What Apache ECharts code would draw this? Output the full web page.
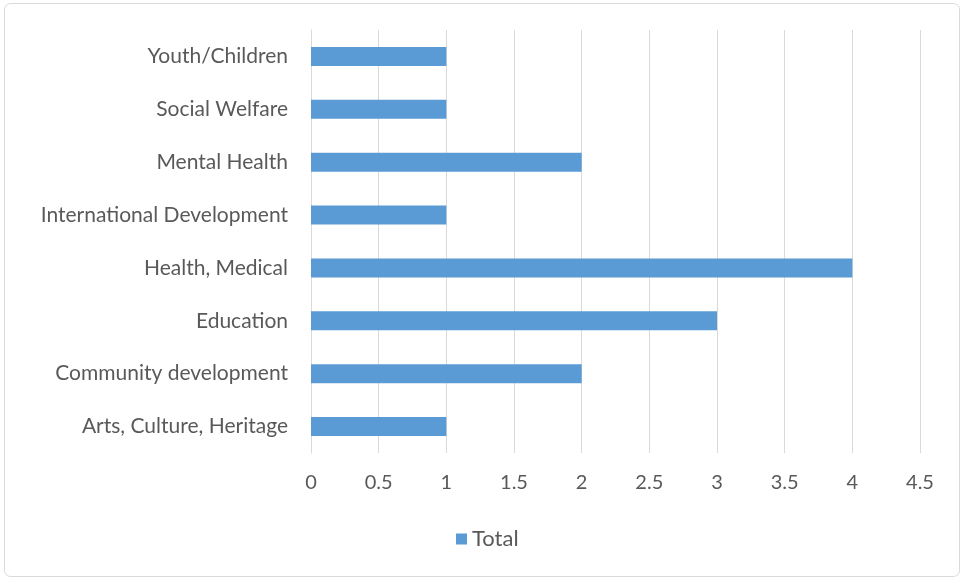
<!DOCTYPE html>
<html>
<head>
<meta charset="utf-8">
<script src="https://cdn.jsdelivr.net/npm/echarts@6/dist/echarts.min.js"></script>
<style>
  html, body { margin: 0; padding: 0; background: #fff; }
  #chart { width: 964px; height: 578px; }
</style>
</head>
<body>
<div id="chart"></div>
<script>
// categories listed bottom to top
const categories = [
  'Arts, Culture, Heritage',
  'Community development',
  'Education',
  'Health, Medical',
  'International Development',
  'Mental Health',
  'Social Welfare',
  'Youth/Children',
];
const totals = [1, 2, 3, 4, 1, 2, 1, 1];
const seriesName = 'Total';

const textColor = '#595959';
const fontFamily = 'Lato, "Open Sans", sans-serif';

const chart = echarts.init(document.getElementById('chart'));
chart.setOption({
  animation: false,
  textStyle: { fontFamily: fontFamily },
  graphic: [{
    type: 'rect',
    shape: { x: 4.5, y: 3.5, width: 955, height: 573, r: 6 },
    style: { fill: 'none', stroke: '#d9d9d9', lineWidth: 1 },
    silent: true,
  }],
  grid: {
    left: 311,
    right: 44,
    top: 30,
    height: 423,
    containLabel: false,
  },
  legend: {
    data: [seriesName],
    top: 523,
    left: 451,
    icon: 'rect',
    itemWidth: 11,
    itemHeight: 11,
    itemGap: 7,
    textStyle: { color: textColor, fontSize: 22, fontFamily: fontFamily },
  },
  xAxis: {
    type: 'value',
    min: 0,
    max: 4.5,
    interval: 0.5,
    axisLine: { show: false },
    axisTick: { show: false },
    splitLine: { lineStyle: { color: '#d9d9d9', width: 1 } },
    axisLabel: { color: textColor, fontSize: 20, margin: 20 },
  },
  yAxis: {
    type: 'category',
    data: categories,
    axisLine: { lineStyle: { color: '#d9d9d9' } },
    axisTick: { show: false },
    axisLabel: { color: textColor, fontSize: 21, margin: 23 },
  },
  series: [{
    name: seriesName,
    type: 'bar',
    data: totals,
    barWidth: 19,
    itemStyle: { color: '#5b9bd5' },
  }],
});
</script>
</body>
</html>
